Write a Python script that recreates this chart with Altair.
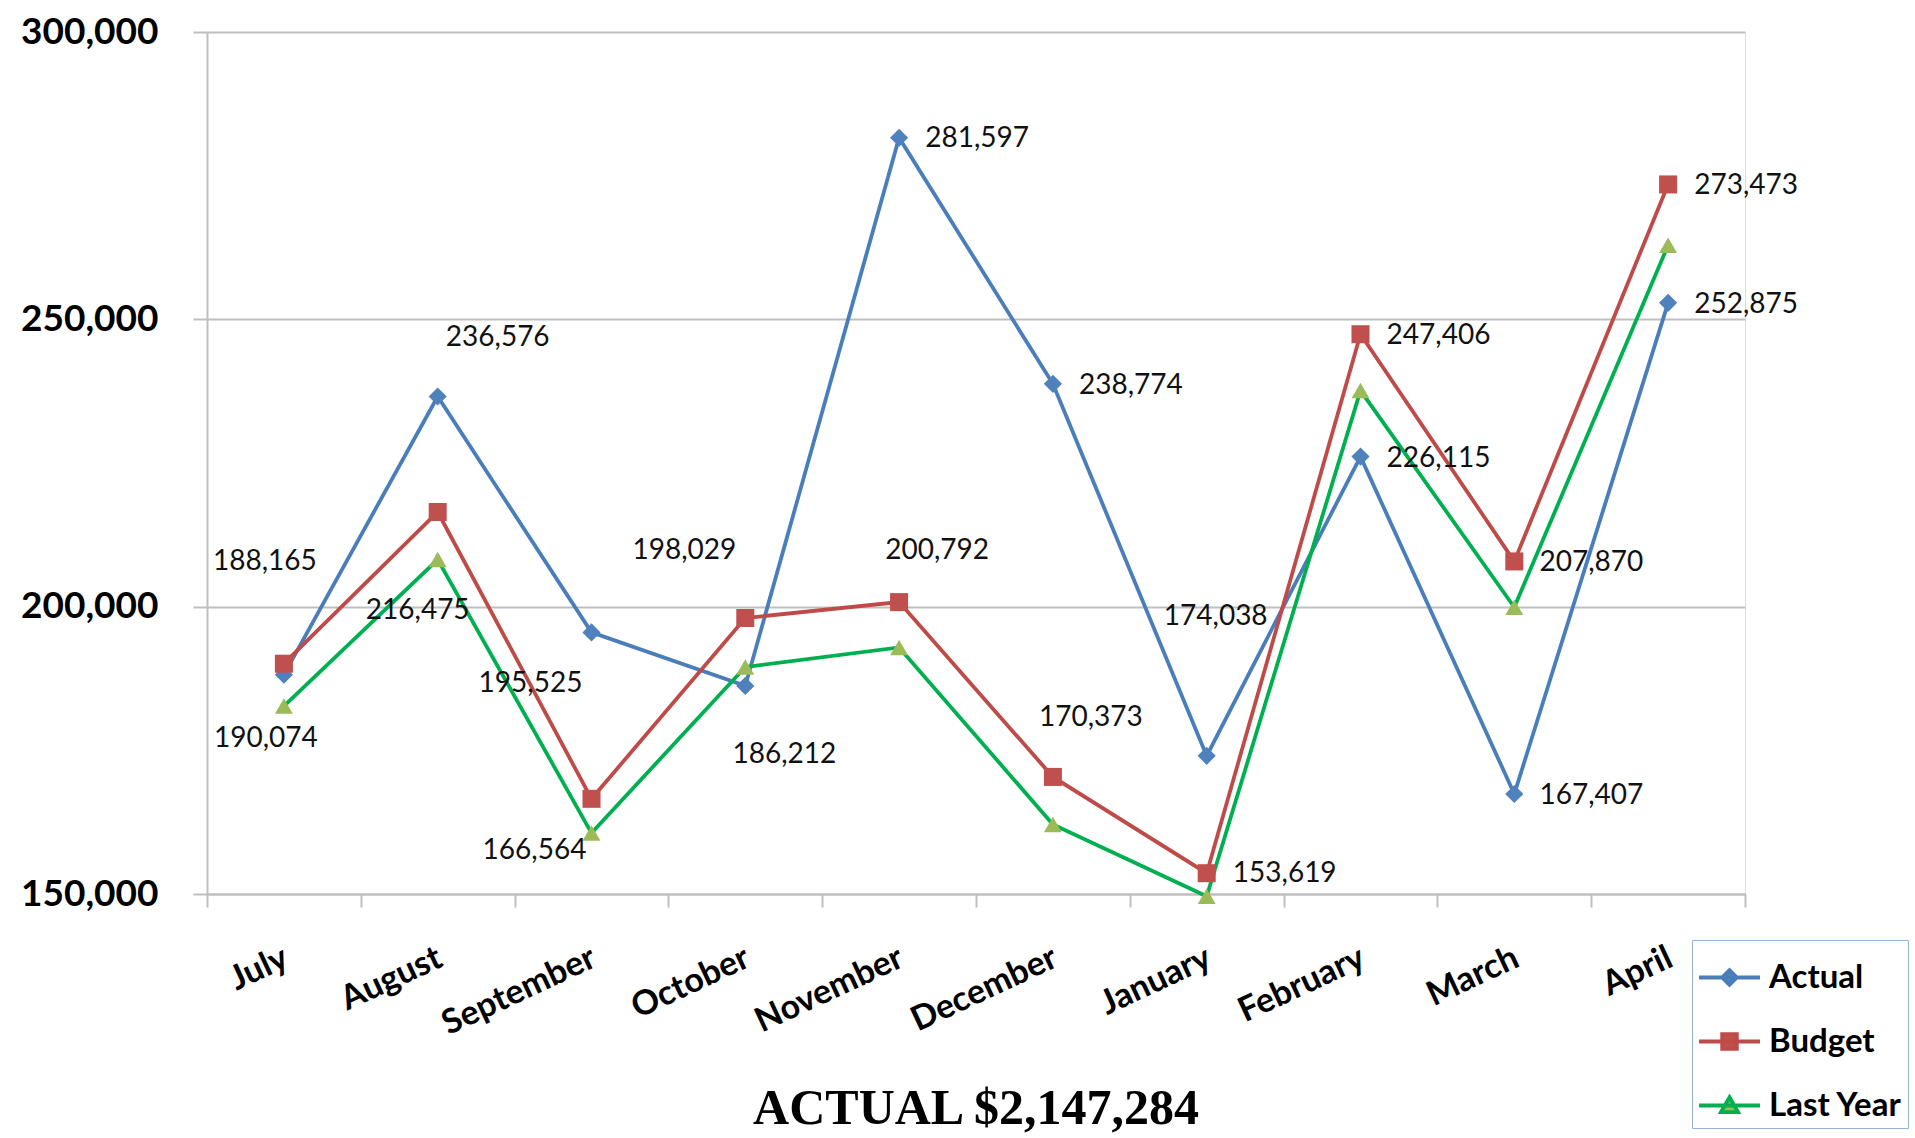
import altair as alt
import pandas as pd

months = ["July", "August", "September", "October", "November",
          "December", "January", "February", "March", "April"]
actual = [188165, 236576, 195525, 186212, 281597, 238774, 174038, 226115, 167407, 252875]
budget = [190074, 216475, 166564, 198029, 200792, 170373, 153619, 247406, 207870, 273473]
last_year = [182700, 208200, 160600, 189500, 192900, 162100, 149600, 237600, 199900, 262900]

series_names = ["Actual", "Budget", "Last Year"]
line_colors = ["#4A7EBB", "#BE4B48", "#00B050"]
marker_colors = ["#4F81BD", "#C0504D", "#9BBB59"]
marker_shapes = ["diamond", "square", "triangle-up"]
marker_sizes = [330, 320, 420]
legend_shapes = [
    "M-1,0H1M0,-0.24L0.24,0L0,0.24L-0.24,0Z",
    "M-1,0H1M-0.24,-0.24H0.24V0.24H-0.24Z",
    "M-1,0H1M0,-0.27L0.28,0.22H-0.28Z",
]

# label offsets in pixels relative to each point (style, not data)
actual_label_dx = [-19, 60, -61, 39, 78, 78, 9, 78, 77, 78]
actual_label_dy = [-113, -58, 52, 69, 1, 2, -139, 2, 2, 2]
budget_label_dx = [-18, -20, -57, -61, 38, 38, 78, 78, 77, 78]
budget_label_dy = [75, 99, 52, -67, -51, -59, 1, 2, 2, 2]

rows = []
for name, vals in [("Actual", actual), ("Budget", budget), ("Last Year", last_year)]:
    for i, m in enumerate(months):
        rows.append({"month": m, "idx": i, "series": name, "value": vals[i]})
df = pd.DataFrame(rows)

GRID = "#BFBFBF"

x_enc = alt.X("month:N", sort=months, bandPosition=0.5,
              scale=alt.Scale(type="band", paddingInner=0, paddingOuter=0),
              axis=alt.Axis(title=None, labelAngle=-25, labelAlign="right",
                            labelBaseline="middle", labelFont="Lato",
                            labelFontSize=34, labelFontWeight="bold",
                            labelColor="black", labelPadding=49, labelOffset=2,
                            tickBand="extent", tickSize=13, tickColor=GRID,
                            tickWidth=2, domainColor=GRID, domainWidth=2,
                            grid=False))
y_enc = alt.Y("value:Q", scale=alt.Scale(domain=[150000, 300000], nice=False, zero=False),
              axis=alt.Axis(title=None, values=[150000, 200000, 250000, 300000],
                            format=",d", labelFont="Lato", labelFontSize=37,
                            labelFontWeight="bold", labelColor="black",
                            labelPadding=35, tickSize=14, tickColor=GRID,
                            tickWidth=2, domainColor=GRID, domainWidth=2,
                            grid=True, gridColor=GRID, gridWidth=2))

base = alt.Chart(df)

lines = base.mark_line(strokeWidth=3.8).encode(
    x=x_enc, y=y_enc,
    stroke=alt.Stroke("series:N", scale=alt.Scale(domain=series_names, range=line_colors), legend=None),
    order=alt.Order("idx:Q"),
)

points = base.mark_point(filled=True, opacity=1, strokeWidth=0).encode(
    x=x_enc, y=y_enc,
    fill=alt.Fill("series:N", scale=alt.Scale(domain=series_names, range=marker_colors), legend=None),
    shape=alt.Shape("series:N", scale=alt.Scale(domain=series_names, range=marker_shapes), legend=None),
    size=alt.Size("series:N", scale=alt.Scale(domain=series_names, range=marker_sizes), legend=None),
)

label_layers = []
for name, dxs, dys in [("Actual", actual_label_dx, actual_label_dy),
                       ("Budget", budget_label_dx, budget_label_dy)]:
    for i in range(len(months)):
        label_layers.append(
            base.transform_filter(
                (alt.datum.series == name) & (alt.datum.idx == i)
            ).mark_text(
                font="Lato", fontSize=28, color="#111111", align="center",
                baseline="middle", dx=dxs[i], dy=dys[i]
            ).encode(
                x=x_enc, y=y_enc,
                text=alt.Text("value:Q", format=",d"),
            )
        )

legend_props = dict(
    title=None, orient="none", legendX=1485, legendY=908, padding=5,
    strokeColor="#95B3D7", fillColor="white", symbolSize=3721,
    symbolStrokeWidth=3.8, labelFont="Lato", labelFontSize=33,
    labelFontWeight="bold", labelColor="black", rowPadding=14,
    labelOffset=7, labelLimit=300,
)

legend_layer = base.transform_filter(alt.datum.value < 0).mark_point(
    filled=True, opacity=1, strokeWidth=3.8
).encode(
    x=x_enc, y=y_enc,
    shape=alt.Shape("series:N", scale=alt.Scale(domain=series_names, range=legend_shapes),
                    legend=alt.Legend(**legend_props)),
    stroke=alt.Stroke("series:N", scale=alt.Scale(domain=series_names, range=line_colors),
                      legend=alt.Legend(**legend_props)),
    fill=alt.Fill("series:N", scale=alt.Scale(domain=series_names, range=marker_colors),
                  legend=alt.Legend(**legend_props)),
)

chart = alt.layer(lines, points, *label_layers, legend_layer).resolve_scale(
    shape="independent", stroke="independent", fill="independent", size="independent"
).properties(
    width=1538, height=862,
    padding={"left": 207, "top": 32, "right": 170, "bottom": 244},
    autosize=alt.AutoSizeParams(type="none"),
    title=alt.Title("ACTUAL $2,147,284", orient="bottom", anchor="middle", frame="group",
                    font="Liberation Serif", fontSize=50, fontWeight="bold",
                    color="black", offset=-45),
).configure_view(stroke=None).configure(background="white")

chart.save("out.html", embed_options={"renderer": "svg", "actions": False})
